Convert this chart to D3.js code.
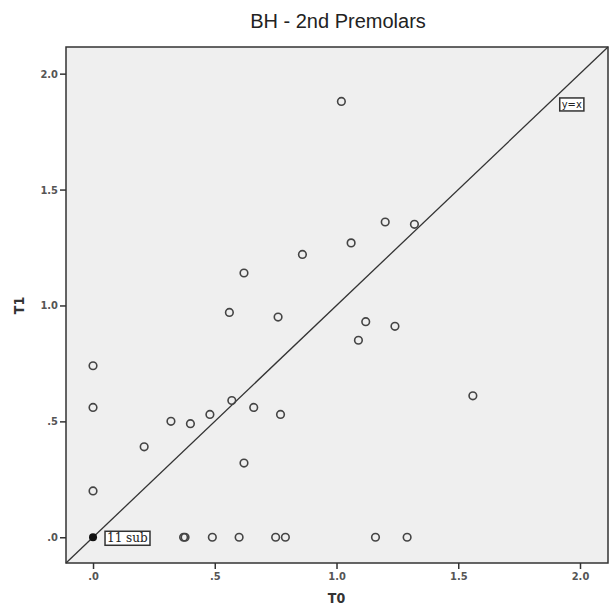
<!DOCTYPE html>
<html>
<head>
<meta charset="utf-8">
<script src="https://d3js.org/d3.v7.min.js"></script>
<style>
  body { margin: 0; background: #fff; }
  text { font-family: "Liberation Sans", Arial, sans-serif; }
</style>
</head>
<body>
<div id="chart"></div>
<script>
// values
var t0 = [0, 0, 0, 0.21, 0.32, 0.40, 0.48, 0.57, 0.66, 0.77, 0.62, 0.56, 0.76,
          1.02, 1.20, 1.32, 1.06, 0.86, 0.62, 1.12, 1.24, 1.09, 1.56,
          0.372, 0.378, 0.49, 0.60, 0.75, 0.79, 1.16, 1.29];
var t1 = [0.74, 0.56, 0.20, 0.39, 0.50, 0.49, 0.53, 0.59, 0.56, 0.53, 0.32, 0.97, 0.95,
          1.88, 1.36, 1.35, 1.27, 1.22, 1.14, 0.93, 0.91, 0.85, 0.61,
          0, 0, 0, 0, 0, 0, 0, 0];
var tickValues = [0, 0.5, 1.0, 1.5, 2.0];
var tickLabels = [".0", ".5", "1.0", "1.5", "2.0"];
var subX = 0, subY = 0, subLabel = "11 sub";

var width = 611, height = 613;
var margin = {top: 47, right: 3, bottom: 50, left: 66};
var domain = [-0.111, 2.115];

var svg = d3.select("#chart").append("svg")
    .attr("width", width)
    .attr("height", height);

var x = d3.scaleLinear().domain(domain).range([margin.left, width - margin.right]);
var y = d3.scaleLinear().domain(domain).range([height - margin.bottom, margin.top]);

svg.append("text")
    .attr("x", 338).attr("y", 28)
    .attr("text-anchor", "middle")
    .style("font-size", "20px")
    .style("fill", "#222")
    .text("BH - 2nd Premolars");

// plot area
svg.append("rect")
    .attr("x", x(domain[0])).attr("y", y(domain[1]))
    .attr("width", x(domain[1]) - x(domain[0]))
    .attr("height", y(domain[0]) - y(domain[1]))
    .attr("fill", "#efefef")
    .attr("stroke", "#333")
    .attr("stroke-width", 1.5);

var labelOf = function(d) { return tickLabels[tickValues.indexOf(d)]; };

var xAxis = svg.append("g")
    .attr("transform", "translate(0," + y(domain[0]) + ")")
    .call(d3.axisBottom(x).tickValues(tickValues).tickFormat(labelOf).tickSize(6).tickPadding(3));
var yAxis = svg.append("g")
    .attr("transform", "translate(" + x(domain[0]) + ",0)")
    .call(d3.axisLeft(y).tickValues(tickValues).tickFormat(labelOf).tickSize(6).tickPadding(2));

[xAxis, yAxis].forEach(function(a) {
    a.select(".domain").remove();
    a.selectAll(".tick line").attr("stroke", "#333").attr("stroke-width", 1.5);
    a.selectAll(".tick text")
        .style("font-size", "11px")
        .style("font-weight", "bold")
        .style("font-family", "'DejaVu Sans Condensed', 'Liberation Sans Narrow', sans-serif")
        .attr("fill", "#555");
});

svg.append("text")
    .attr("x", x(1.0)).attr("y", 603)
    .attr("text-anchor", "middle")
    .style("font-size", "14px").style("font-weight", "bold")
    .style("font-family", "'DejaVu Sans Condensed', sans-serif")
    .attr("fill", "#333")
    .text("T0");
svg.append("text")
    .attr("transform", "translate(24," + y(1.0) + ") rotate(-90)")
    .attr("text-anchor", "middle")
    .style("font-size", "14px").style("font-weight", "bold")
    .style("font-family", "'DejaVu Sans Condensed', sans-serif")
    .attr("fill", "#333")
    .text("T1");

// y = x reference line
svg.append("line")
    .attr("x1", x(domain[0])).attr("y1", y(domain[0]))
    .attr("x2", x(domain[1])).attr("y2", y(domain[1]))
    .attr("stroke", "#333").attr("stroke-width", 1.3);

// label box helper
function boxLabel(px, py, txt, size, family) {
    var g = svg.append("g");
    var t = g.append("text")
        .attr("x", px).attr("y", py)
        .style("font-size", size + "px")
        .style("font-family", family)
        .attr("fill", "#222")
        .text(txt);
    var b = t.node().getBBox();
    g.insert("rect", "text")
        .attr("x", b.x - 2).attr("y", b.y)
        .attr("width", b.width + 4).attr("height", b.height)
        .attr("fill", "#fff").attr("stroke", "#333").attr("stroke-width", 1.5);
}

// points
svg.append("g").selectAll("circle")
    .data(t0.map(function(d, i) { return [d, t1[i]]; }))
    .join("circle")
    .attr("cx", function(d) { return x(d[0]); })
    .attr("cy", function(d) { return y(d[1]); })
    .attr("r", 3.8)
    .attr("fill", "none")
    .attr("stroke", "#444")
    .attr("stroke-width", 1.6);

svg.append("circle")
    .attr("cx", x(subX)).attr("cy", y(subY))
    .attr("r", 4).attr("fill", "#111");

boxLabel(x(subX) + 14, y(subY) + 5, subLabel, 12, "'DejaVu Serif', serif");
boxLabel(x(1.925), y(1.865) + 3, "y=x", 11, "'DejaVu Sans Condensed', sans-serif");
</script>
</body>
</html>
